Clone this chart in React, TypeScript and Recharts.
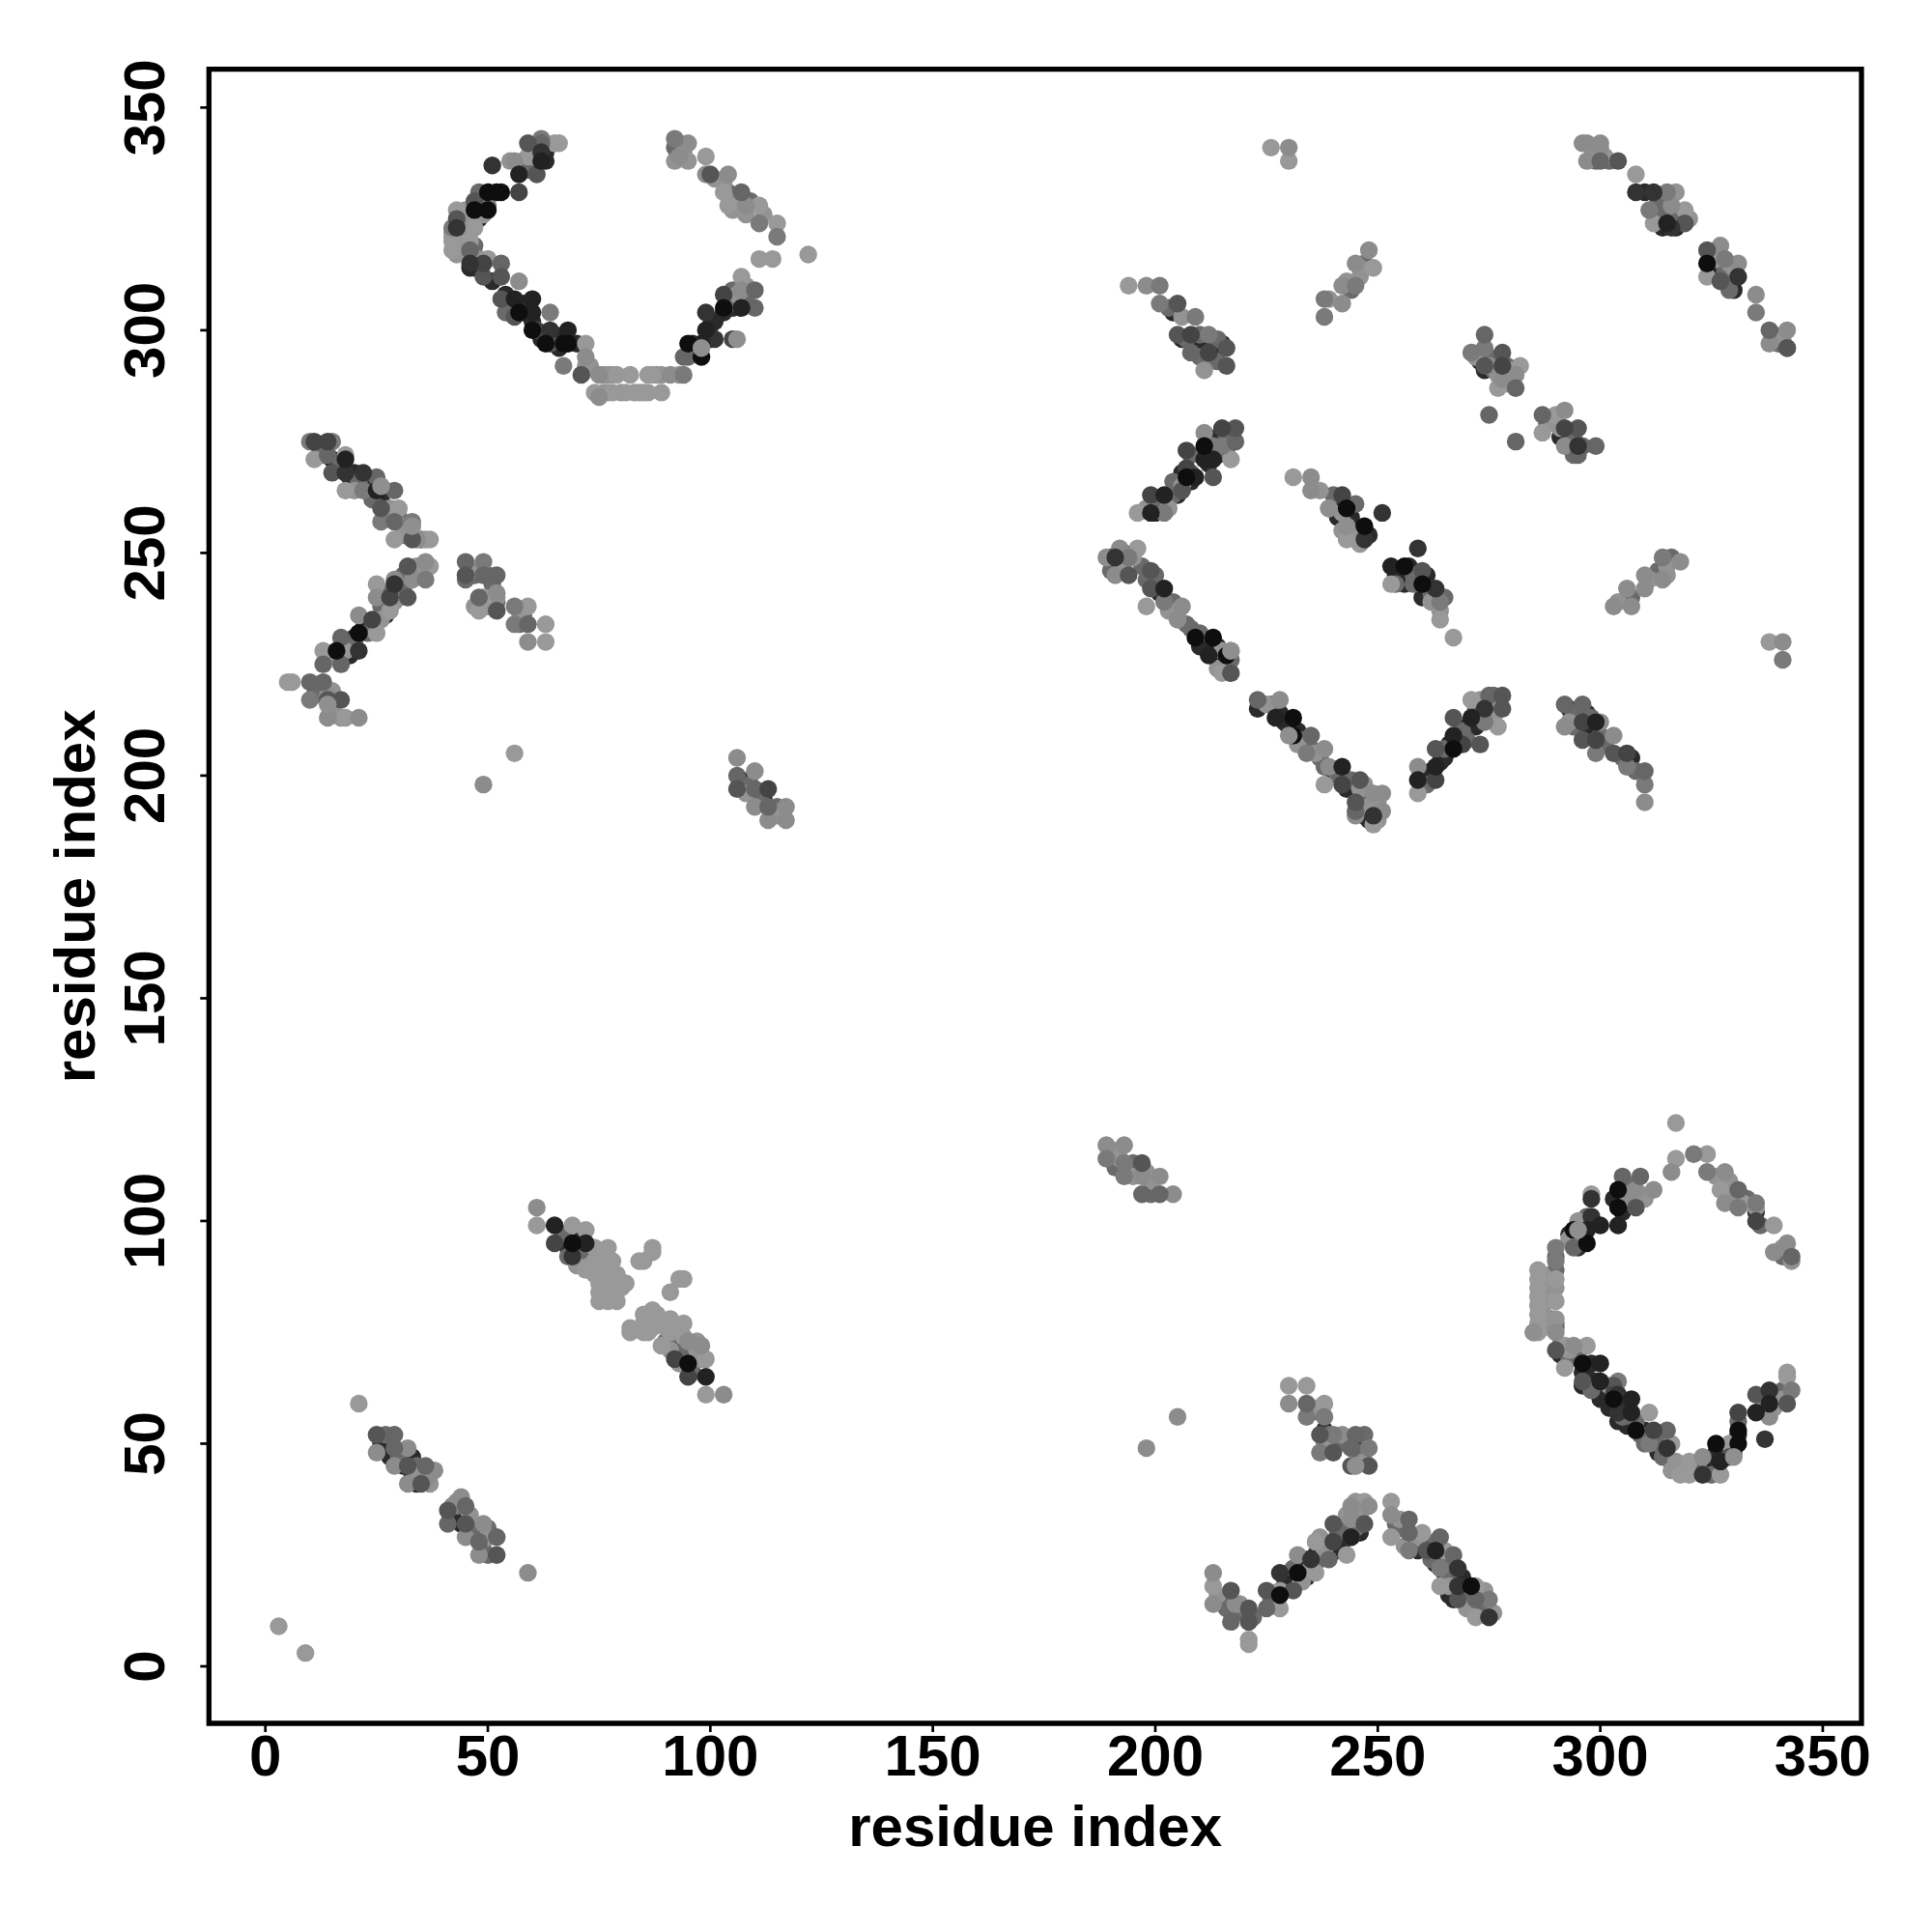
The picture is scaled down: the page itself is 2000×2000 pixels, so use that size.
import React from 'react';
import { ScatterChart, Scatter, XAxis, YAxis, ReferenceArea } from 'recharts';

// contact map points as [residue i, residue j], grouped by grey level
const fillDark: number[][] = [
  [58,338],[61,338],[63,340],[63,338],[49,329],[48,325],[43,322],[47,317],[46,314],[51,311],[54,308],[58,306],[58,304],[60,302],[62,298],[65,299],[66,296],[70,297],[47,314],
  [96,297],[97,295],[100,298],[100,301],[101,302],[103,304],[105,305],
  [12,274],[15,271],[16,269],[19,267],[20,268],[23,266],[24,263],[26,262],[30,243],[27,239],[27,236],[23,234],[22,233],[20,231],[19,229],[19,227],[16,217],
  [214,276],[214,272],[212,270],[206,268],[208,266],[205,263],[201,262],[200,259],
  [241,261],[241,258],[244,258],[245,255],[248,254],[254,245],[255,246],[257,247],[256,243],[261,245],[261,241],[260,240],
  [190,249],[192,247],[200,243],[201,241],[210,229],[212,230],[214,229],[214,226],[216,224],
  [223,215],[228,214],[229,212],[230,211],[232,210],[240,201],[243,197],[247,191],[248,190],
  [260,200],[262,201],[264,203],[265,204],[266,207],[268,208],[270,211],[272,211],[273,212],[273,214],
  [293,215],[297,214],[297,210],[298,209],[299,210],[307,204],
  [291,70],[296,66],[298,68],[297,65],[296,63],[299,64],[301,62],[300,60],[303,62],[302,58],[305,59],[306,58],[304,55],[306,54],[310,53],[313,48],[316,46],[323,45],[325,46],[326,48],[328,49],[328,47],[331,52],
  [304,105],[303,105],[305,102],[296,100],[296,97],[295,94],[293,97],[335,102],[339,60],
  [220,12],[229,18],[229,20],[230,21],[233,22],[234,20],[234,24],[236,25],[238,27],[241,26],[242,28],[246,30],[259,26],[263,23],[265,21],[266,16],[267,15],[269,20],[269,16],[274,13],
  [246,46],[246,50],[238,53],[26,50],[28,47],[31,45],[33,47],[33,43],[34,41],[42,34],[44,32],
  [68,94],[70,93],[71,96],[73,93],[93,71],[96,72],[96,68],
  [310,331],[313,326],[314,325],[317,323],[314,323],[325,314],[326,313],[330,309],
  [273,293],[274,291],[277,292],[291,276],[293,275],[293,277],
  [204,304],[206,298],[210,296],[213,296],[213,294],[215,297],[107,199],[112,195],
];
const fillMid: number[][] = [
  [59,336],[61,340],[48,331],[45,325],[44,321],[47,319],[54,304],
  [95,294],[106,306],[105,309],[108,307],[92,341],[93,342],[104,331],[109,329],
  [13,272],[17,270],[21,266],[24,262],[27,258],[30,258],[31,254],[35,253],[34,245],[31,245],[31,242],[30,240],[26,241],[26,238],[23,232],[20,230],[12,220],[11,218],
  [47,245],[45,244],[50,245],[51,243],[52,239],[58,236],[57,234],
  [216,276],[217,277],[216,273],[208,272],[208,268],[204,263],[200,261],[204,266],
  [240,263],[245,261],[244,254],[254,243],[258,243],[258,245],[262,241],[265,240],
  [190,246],[193,250],[197,247],[198,244],[200,245],[204,239],[207,234],[208,233],[210,232],[217,226],
  [226,216],[233,208],[235,206],[237,204],[238,202],[241,200],[244,199],[247,195],[246,193],
  [261,198],[265,206],[269,210],[270,208],[272,215],[275,216],[275,214],[276,218],
  [294,214],[294,211],[298,213],[300,209],[301,207],[305,204],[308,201],
  [289,78],[289,76],[290,77],[290,76],[290,89],[290,92],[291,72],[293,69],[295,70],[298,62],[305,56],[308,55],[309,52],[310,50],[313,50],[314,47],[321,44],[322,45],[325,43],[330,48],[331,55],
  [306,108],[297,101],[330,105],[333,105],[336,99],[341,92],[337,57],[340,61],[341,62],
  [216,15],[216,13],[218,12],[222,11],[226,15],[231,22],[237,24],[242,31],[245,31],[241,30],
  [254,32],[255,31],[258,28],[261,28],[262,24],[265,24],[266,20],[270,15],[273,13],
  [235,57],[239,52],[241,50],[243,50],[246,48],[247,52],[27,52],[30,47],[34,45],[37,43],[43,36],[46,33],[47,30],[50,31],[49,28],[50,25],
  [67,97],[71,94],[72,92],[68,92],[94,70],[96,66],[92,72],[90,73],
  [299,340],[299,338],[302,338],[313,329],[313,327],[317,325],[316,326],[325,316],[328,314],[328,313],[329,311],[329,309],[339,299],[340,297],
  [275,294],[276,293],[276,291],[279,292],[288,279],[294,276],[294,272],
  [203,305],[207,298],[210,299],[210,294],[214,293],[214,298],[212,293],[244,309],[247,314],[247,315],[307,240],[313,246],[316,249],
  [191,115],[194,112],[195,113],[199,106],[191,112],[109,198],[111,195],[115,193],
];
const fillLight: number[][] = [
  [60,341],[60,339],[55,338],[49,326],[44,324],[45,321],[42,322],[42,321],[43,319],[43,317],[44,320],[45,322],[46,322],[47,325],[45,327],[44,326],[48,316],
  [76,290],[77,290],[78,290],[88,290],[89,290],[93,290],[76,286],[77,286],[80,286],[83,286],[85,286],[73,292],[72,292],[72,291],
  [106,308],[108,310],[94,340],[95,338],[92,338],[101,334],[103,333],[106,329],[105,327],[108,326],[112,326],
  [20,264],[28,260],[31,256],[32,254],[36,253],[34,247],[35,247],[29,239],[26,235],[18,228],[15,227],[15,219],[15,214],[17,213],
  [46,246],[52,240],[50,238],[47,238],[49,238],[57,237],
  [212,273],[206,265],[198,260],[203,260],[237,264],[242,259],[246,254],[245,253],[242,255],[262,239],[264,237],
  [193,246],[195,249],[203,237],[205,236],[215,228],[214,224],
  [225,216],[232,207],[236,205],[246,197],[247,198],[248,193],[250,194],[250,190],[276,216],[273,217],[276,213],[293,212],
  [287,88],[287,86],[287,84],[287,82],[287,80],[287,78],[287,76],[290,78],[290,85],[293,71],[302,63],[316,44],[317,46],[319,45],
  [307,105],[309,106],[310,105],[296,96],[293,96],[295,100],[326,110],[329,109],[329,106],[335,103],[341,94],[343,91],[337,60],[339,58],[341,60],
  [214,16],[219,14],[233,19],[235,22],[238,26],[243,34],[246,33],[246,34],[245,37],[237,29],[255,33],[256,27],[259,29],[266,18],[270,13],[274,17],[276,12],
  [236,58],[238,50],[247,46],[34,43],[37,41],[43,37],[46,34],[50,29],[70,90],[93,68],[97,71],[97,73],[91,71],[98,69],
  [298,341],[301,339],[317,331],[320,325],[326,316],[329,315],[330,314],[341,298],
  [272,294],[277,290],[279,288],[280,291],[289,280],[290,279],[291,278],[206,303],[211,291],
  [239,307],[243,311],[246,314],[246,312],[304,239],[311,244],[315,247],[315,245],
  [190,116],[192,114],[195,110],[198,111],[199,109],[108,196],[114,192],[115,191],
];
const grey96: number[][] = [
  [65,342],[66,342],[59,339],[43,327],[47,323],[42,320],[42,318],[46,320],[46,316],[50,316],[72,297],[79,290],[82,290],[86,290],[87,290],[74,286],[78,286],[81,286],[84,286],[86,286],[89,286],[107,312],[111,316],[114,316],[122,317],[115,324],[111,328],[104,328],[103,331],[99,339],
  [11,271],[18,272],[18,264],[26,265],[30,260],[29,253],[33,256],[37,253],[37,247],[25,243],[28,237],[25,232],[17,228],[13,228],[5,221],[6,221],[18,213],[49,240],[48,237],[59,238],[63,234],[63,230],[56,205],
  [217,271],[196,259],[231,267],[239,260],[243,253],[246,252],[264,235],[267,231],[253,243],[196,251],[198,238],[215,223],[238,198],[249,189],[259,196],[271,217],[277,211],
  [317,122],[317,114],[324,115],[327,107],[332,104],[339,99],[298,106],[286,89],[290,87],[286,87],[286,85],[286,83],[286,81],[286,79],[286,77],[286,75],[290,82],[285,75],[292,72],[297,72],[292,67],[311,57],[316,50],[320,46],[318,43],[320,43],[327,43],[329,50],[342,66],[342,65],
  [230,63],[234,63],[238,59],[245,45],[213,18],[221,6],[221,5],[228,13],[228,17],[236,28],[243,25],[244,29],[247,37],[253,37],[253,29],[260,30],[265,26],[264,18],[272,18],[272,11],[236,21],
  [61,99],[69,99],[72,98],[74,94],[77,94],[78,91],[72,89],[73,90],[74,88],[75,86],[75,84],[75,82],[77,82],[79,82],[77,85],[79,85],[81,86],[77,88],[79,88],[74,91],[76,91],[80,85],[78,83],[87,94],[87,93],[84,91],[85,91],[94,87],[93,87],[91,84],[82,75],[87,80],[85,79],[82,76],[87,76],[85,75],[86,75],[89,72],[91,78],[94,77],[91,75],[94,74],[90,76],[85,77],[88,79],[99,61],[99,69],
  [308,335],[312,324],[319,327],[324,312],[282,292],[277,287],[290,281],[287,277],[3,9],[9,3],[21,59],[226,341],[230,338],[338,230],[194,310],[249,314],
];
const grey8a: number[][] = [
  [56,338],[57,311],[72,294],[75,290],[91,290],[75,285],[107,309],[108,328],[104,335],[99,335],[93,339],[95,342],
  [34,253],[36,248],[29,244],[33,244],[25,240],[21,236],[45,245],[52,241],[14,218],[14,213],[21,213],[59,230],[49,198],
  [211,277],[235,267],[235,264],[243,256],[192,251],[189,249],[191,245],[206,238],[205,235],[217,228],[228,217],[238,206],[239,202],[251,196],[249,196],[245,191],[251,192],[259,202],
  [316,111],[328,111],[328,104],[342,95],[339,93],[312,107],[308,107],[306,106],[290,75],[294,72],[323,47],[338,56],
  [230,59],[242,52],[213,21],[213,14],[218,14],[232,25],[244,33],[244,36],[248,36],[253,34],
  [61,103],[98,72],[95,73],[103,61],
  [296,342],[297,342],[300,342],[300,341],[297,338],[316,328],[327,319],[331,315],[335,308],[342,300],[338,297],[278,289],[281,290],[292,282],[292,274],[275,292],
  [25,48],[29,45],[32,49],[32,41],[36,42],[38,44],[44,38],[42,36],[45,29],[49,32],[48,25],[59,21],[292,211],[300,212],[303,209],[310,194],
  [230,341],[198,310],[242,306],[242,310],[245,315],[248,318],[303,238],[306,242],[307,238],[310,242],[310,245],[314,244],[318,248],[341,230],[198,49],[205,56],[189,117],[193,117],[197,110],[201,110],[204,106],[106,204],[110,201],[110,193],[113,190],[117,193],[117,190],
];
const grey7a: number[][] = [
  [62,343],[50,328],[42,323],[64,304],[67,292],[94,290],[115,321],[111,324],[92,343],
  [10,275],[15,275],[22,264],[26,257],[33,257],[36,244],[56,238],[49,248],[10,217],[56,234],
  [213,274],[215,274],[202,259],[194,249],[202,239],[234,205],[274,212],[264,239],
  [321,115],[324,111],[331,103],[335,104],[290,94],[290,91],[304,64],[311,50],[343,62],
  [234,56],[238,56],[240,52],[237,48],[248,49],[257,26],[264,22],[275,15],
  [315,331],[311,327],[328,316],[335,304],[271,295],[274,296],[299,205],[306,202],[310,198],
  [238,307],[238,303],[245,310],[189,114],[193,113],[193,110],[314,249],[341,226],[201,306],[209,303],[212,299],[201,310],
];
const grey66: number[][] = [
  [62,342],[46,318],[53,315],[94,294],[110,305],[110,309],[107,331],
  [14,272],[25,267],[29,264],[29,257],[17,231],[17,225],[13,225],[10,221],[13,221],[45,248],[49,245],[52,245],[48,240],[59,234],
  [218,275],[223,217],[235,209],[245,192],[275,218],
  [331,107],[343,92],[305,110],[309,110],[294,94],[315,53],
  [234,59],[245,52],[244,49],[217,10],[225,13],[239,24],[257,33],[257,30],[264,29],[267,25],[272,15],
  [300,338],[342,296],[338,300],[274,299],[281,287],[275,281],[281,275],[287,281],[296,274],[299,274],[295,272],
  [29,52],[29,49],[36,45],[45,36],[48,28],[52,29],[41,32],
  [292,216],[296,216],[310,201],[208,295],[197,106],[201,106],[106,200],[110,197],[113,193],
];
const grey55: number[][] = [
  [59,342],[61,335],[47,329],[43,325],[53,312],[49,312],[53,307],[56,303],[64,297],[71,290],[100,335],
  [26,260],[33,253],[32,247],[32,240],[52,237],[45,245],[14,217],[17,217],[15,268],
  [218,278],[213,267],[206,264],[260,246],[199,246],[199,242],[194,245],[217,223],[246,199],[245,194],[263,206],[267,213],[273,207],[278,218],[278,215],
  [308,103],[303,63],[290,71],[296,64],[308,53],[329,47],[335,61],[342,59],
  [237,52],[240,48],[244,45],[248,45],[217,17],[221,13],[221,10],[225,17],[231,17],[240,32],[247,32],[261,26],[268,15],
  [304,338],[319,324],[324,318],[327,311],[342,296],[274,292],[278,295],[295,278],
  [25,52],[32,45],[35,41],[41,35],[45,32],[52,25],
  [296,208],[303,205],[212,295],[216,296],[216,292],[205,306],[205,299],[197,113],[106,197],
];
const grey44: number[][] = [
  [57,331],[49,315],[61,300],[103,308],[105,298],
  [11,275],[14,275],[28,240],[24,235],[215,278],[207,273],[207,269],[242,263],[199,263],[242,198],[263,199],[269,207],
  [335,100],[331,57],[312,53],[303,61],
  [240,28],[65,95],[92,69],[95,65],[278,292],[292,278],[296,212],[299,208],[306,205],[208,299],[212,295],[113,197],
];
const grey33: number[][] = [
  [62,340],[51,337],[43,323],[46,315],[64,300],[99,304],[101,298],
  [18,268],[22,268],[21,228],[29,243],
  [251,259],[259,251],[263,242],[247,253],[274,215],[249,191],[191,249],
  [298,105],[298,101],[304,57],[304,61],[315,49],[323,43],[338,62],[337,51],
  [235,24],[228,21],[268,22],[268,18],[275,11],[69,92],
  [308,331],[312,331],[316,323],[331,312],[295,274],
];
const grey22: number[][] = [
  [62,338],[57,335],[56,307],[60,307],[60,304],[68,300],[99,300],[98,297],[107,305],
  [18,271],[25,264],
  [211,271],[213,271],[209,267],[202,263],[199,259],[253,247],[202,242],[212,227],[227,213],[242,202],[263,202],[267,209],[259,199],[271,213],
  [304,99],[300,99],[297,98],[300,68],[300,64],[307,60],[307,57],[327,46],[335,57],[338,59],
  [244,29],[263,26],[65,99],[72,95],[99,65],[315,324],[299,212],
];
const grey11: number[][] = [
  [50,331],[52,331],[53,331],[50,327],[47,327],[57,304],[60,300],[68,297],[67,297],[63,297],[95,297],[98,294],[103,305],
  [21,232],[16,228],
  [211,274],[207,267],[243,260],[247,256],[256,247],[260,243],[209,231],[213,231],[216,227],[231,213],[231,209],[267,206],
  [304,107],[304,103],[294,98],[297,95],[296,68],[303,60],[308,53],[326,50],[331,53],[331,50],
  [232,21],[228,16],[271,18],[69,95],[95,68],[324,315],
];
// lighter dots that sit on top of the dark ones
const topLight: number[][] = [
  [106,298],[98,296],[295,98],[245,45],[285,75],[33,256],[26,265],[330,47],[14,216],[230,209],[239,260],[243,256],[217,228],
];

const levels: { name: string; points: number[][]; shade: string }[] = [
  { name: 'fillDark', points: fillDark, shade: '#2a2a2a' },
  { name: 'fillMid', points: fillMid, shade: '#6a6a6a' },
  { name: 'fillLight', points: fillLight, shade: '#939393' },
  { name: 'grey96', points: grey96, shade: '#999999' },
  { name: 'grey8a', points: grey8a, shade: '#8c8c8c' },
  { name: 'grey7a', points: grey7a, shade: '#7a7a7a' },
  { name: 'grey66', points: grey66, shade: '#666666' },
  { name: 'grey55', points: grey55, shade: '#555555' },
  { name: 'grey44', points: grey44, shade: '#444444' },
  { name: 'grey33', points: grey33, shade: '#333333' },
  { name: 'grey22', points: grey22, shade: '#222222' },
  { name: 'grey11', points: grey11, shade: '#0e0e0e' },
  { name: 'topLight', points: topLight, shade: '#8f8f8f' },
];

const axisTicks = [0, 50, 100, 150, 200, 250, 300, 350];
const fontFamily = '"Liberation Sans", Arial, sans-serif';
const fontSize = 60;

const XTick = ({ x, payload }: any) => (
  <text x={x} y={1838} textAnchor="middle" fontFamily={fontFamily} fontWeight="bold" fontSize={fontSize} fill="#000">
    {payload.value}
  </text>
);

const YTick = ({ y, payload }: any) => (
  <text
    x={170}
    y={y}
    transform={`rotate(-90 170 ${y})`}
    textAnchor="middle"
    fontFamily={fontFamily}
    fontWeight="bold"
    fontSize={fontSize}
    fill="#000"
  >
    {payload.value}
  </text>
);

const Dot = ({ cx, cy, fill }: any) => <circle cx={cx} cy={cy} r={9.2} fill={fill} />;

export default function App() {
  return (
    <div style={{ position: 'absolute', left: 0, top: 0, background: '#fff' }}>
      <ScatterChart width={2000} height={2000} margin={{ top: 71.7, right: 73, bottom: 0, left: 0 }}>
        <XAxis
          type="number"
          dataKey="x"
          height={216}
          domain={[-12.68, 358.7]}
          ticks={axisTicks}
          interval={0}
          axisLine={false}
          tickLine={{ stroke: '#000', strokeWidth: 2.7 }}
          tickSize={9}
          tick={<XTick />}
          label={{
            value: 'residue index',
            position: 'insideBottom',
            offset: 89,
            fontFamily,
            fontWeight: 'bold',
            fontSize,
            fill: '#000',
          }}
        />
        <YAxis
          type="number"
          dataKey="y"
          width={216.3}
          domain={[-12.8, 358.6]}
          ticks={axisTicks}
          interval={0}
          axisLine={false}
          tickLine={{ stroke: '#000', strokeWidth: 2.7 }}
          tickSize={9}
          tick={<YTick />}
          label={{
            value: 'residue index',
            angle: -90,
            position: 'insideLeft',
            offset: 77,
            fontFamily,
            fontWeight: 'bold',
            fontSize,
            fill: '#000',
            style: { textAnchor: 'middle' },
          }}
        />
        <ReferenceArea x1={-12.68} x2={358.7} y1={-12.8} y2={358.6} fill="none" stroke="#000" strokeWidth={5.3} />
        {levels.map((level) => (
          <Scatter
            key={level.name}
            data={level.points.map(([x, y]) => ({ x, y }))}
            fill={level.shade}
            shape={<Dot />}
            isAnimationActive={false}
          />
        ))}
      </ScatterChart>
    </div>
  );
}
